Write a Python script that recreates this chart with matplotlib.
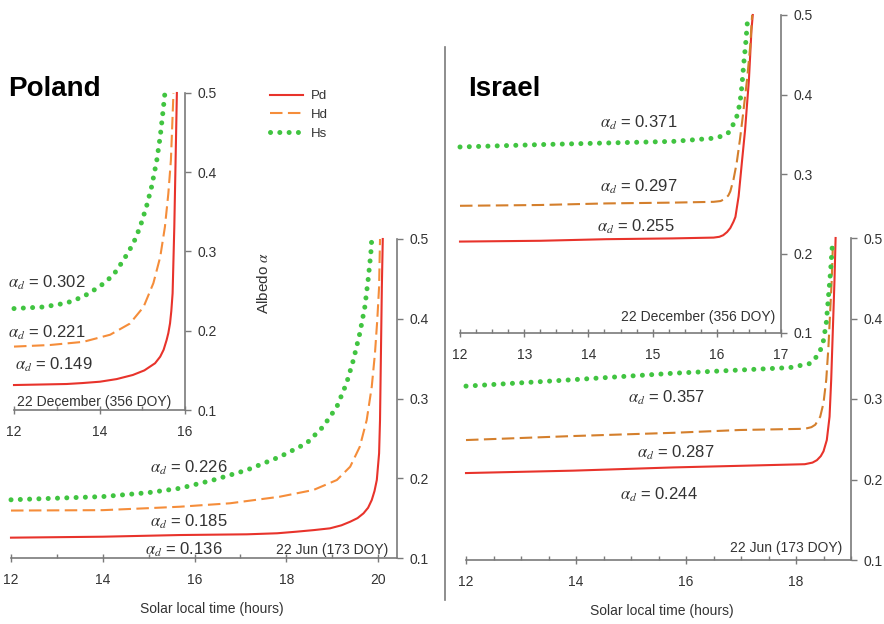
import matplotlib
matplotlib.use("Agg")
import matplotlib.pyplot as plt
from matplotlib.lines import Line2D
from matplotlib.ticker import MultipleLocator, FormatStrFormatter

plt.rcParams["font.family"] = ["Liberation Sans", "DejaVu Sans"]
plt.rcParams["mathtext.fontset"] = "stix"

# series names
series = ["Pd", "Hd", "Hs"]

# Poland, 22 December
pl_dec_t_pd = [12.0, 13.23, 13.6, 14.01, 14.4, 14.78, 15.05, 15.30, 15.42, 15.50, 15.57, 15.61, 15.65, 15.68,
               15.71, 15.75, 15.78, 15.81]
pl_dec_a_pd = [0.1315, 0.1328, 0.134, 0.1357, 0.139, 0.1442, 0.150, 0.159, 0.1673, 0.176, 0.1883, 0.197,
               0.2094, 0.225, 0.2473, 0.3313, 0.4155, 0.5]
pl_dec_t_hd = [12.0, 12.84, 13.62, 14.25, 14.71, 15.03, 15.26, 15.42, 15.53, 15.61, 15.67, 15.70, 15.73]
pl_dec_a_hd = [0.180, 0.182, 0.186, 0.195, 0.209, 0.230, 0.260, 0.293, 0.331, 0.373, 0.415, 0.457, 0.5]
pl_dec_t_hs = [12.0, 12.69, 13.23, 13.62, 14.01, 14.32, 14.56, 14.79, 14.95, 15.10, 15.22, 15.34, 15.42,
               15.48, 15.53]
pl_dec_a_hs = [0.228, 0.230, 0.235, 0.243, 0.256, 0.270, 0.289, 0.310, 0.331, 0.357, 0.382, 0.415, 0.445,
               0.474, 0.5]

# Poland, 22 June
pl_jun_t_pd = [12.0, 14.0, 15.68, 17.14, 17.8, 18.22, 18.6, 18.95, 19.2, 19.39, 19.55, 19.68, 19.78, 19.86,
               19.92, 19.97, 20.02, 20.04, 20.06, 20.08, 20.10]
pl_jun_a_pd = [0.1255, 0.1267, 0.1288, 0.1297, 0.131, 0.133, 0.135, 0.1372, 0.141, 0.1455, 0.150, 0.156,
               0.163, 0.1727, 0.184, 0.1978, 0.2313, 0.273, 0.3567, 0.4402, 0.5]
pl_jun_t_hd = [12.0, 14.0, 15.0, 15.68, 16.77, 17.86, 18.59, 19.10, 19.39, 19.60, 19.75, 19.86, 19.93,
               19.98, 20.02, 20.04]
pl_jun_a_hd = [0.1595, 0.160, 0.1625, 0.1643, 0.1686, 0.1769, 0.1853, 0.1978, 0.2145, 0.2396, 0.273,
               0.3148, 0.3567, 0.3984, 0.4402, 0.5]
pl_jun_t_hs = [12.0, 14.0, 15.0, 15.68, 16.41, 17.14, 17.86, 18.44, 18.80, 19.10, 19.31, 19.46, 19.60,
               19.71, 19.78, 19.84, 19.86]
pl_jun_a_hs = [0.173, 0.177, 0.182, 0.1874, 0.1978, 0.2103, 0.227, 0.2438, 0.2646, 0.2897, 0.319, 0.3483,
               0.3818, 0.4151, 0.4486, 0.482, 0.5]

# Israel, 22 December
il_dec_t_pd = [12.0, 13.25, 14.28, 15.32, 15.95, 16.04, 16.10, 16.16, 16.21, 16.26, 16.29, 16.34, 16.39,
               16.44, 16.50, 16.54, 16.56]
il_dec_a_pd = [0.215, 0.216, 0.218, 0.219, 0.220, 0.221, 0.223, 0.227, 0.232, 0.240, 0.246, 0.272, 0.314,
               0.355, 0.418, 0.481, 0.5]
il_dec_t_hd = [12.0, 13.25, 14.28, 15.32, 15.95, 16.06, 16.13, 16.18, 16.21, 16.26, 16.31, 16.36, 16.41,
               16.47, 16.52, 16.55]
il_dec_a_hd = [0.260, 0.261, 0.263, 0.264, 0.265, 0.266, 0.269, 0.273, 0.278, 0.293, 0.314, 0.343, 0.376,
               0.418, 0.460, 0.5]
il_dec_t_hs = [12.0, 13.25, 14.28, 15.32, 15.95, 16.10, 16.18, 16.23, 16.31, 16.36, 16.39, 16.42, 16.45,
               16.48]
il_dec_a_hs = [0.334, 0.337, 0.339, 0.341, 0.345, 0.348, 0.352, 0.358, 0.372, 0.389, 0.410, 0.439, 0.464,
               0.495]

# Israel, 22 June
il_jun_t_pd = [12.0, 13.95, 15.77, 16.98, 18.16, 18.30, 18.38, 18.45, 18.50, 18.56, 18.61, 18.64, 18.67,
               18.70, 18.72]
il_jun_a_pd = [0.208, 0.211, 0.215, 0.217, 0.219, 0.221, 0.224, 0.229, 0.235, 0.249, 0.278, 0.324, 0.386,
               0.448, 0.5]
il_jun_t_hd = [12.0, 13.95, 15.77, 16.98, 18.16, 18.28, 18.35, 18.44, 18.50, 18.55, 18.59, 18.62, 18.65,
               18.67]
il_jun_a_hd = [0.249, 0.254, 0.258, 0.2615, 0.263, 0.265, 0.268, 0.278, 0.295, 0.324, 0.365, 0.407, 0.448,
               0.49]
il_jun_t_hs = [12.0, 13.95, 15.77, 16.98, 17.89, 18.25, 18.41, 18.49, 18.55, 18.59, 18.63, 18.66]
il_jun_a_hs = [0.316, 0.324, 0.332, 0.336, 0.339, 0.344, 0.355, 0.369, 0.394, 0.427, 0.460, 0.491]

# daily albedo values (Pd, Hd, Hs)
pl_dec_daily = [0.149, 0.221, 0.302]
pl_jun_daily = [0.136, 0.185, 0.226]
il_dec_daily = [0.255, 0.297, 0.371]
il_jun_daily = [0.244, 0.287, 0.357]

GREY = "#7a7a7a"
TXT = "#333333"
RED = "#e8332b"
ORANGE_PL = "#f58d3a"
ORANGE_IL = "#d47f2c"
GREEN = "#41c441"


def style_axes(ax, xmax, major, minor):
    ax.set_xlim(12, xmax)
    ax.set_ylim(0.1, 0.5)
    ax.patch.set_visible(False)
    ax.spines["top"].set_visible(False)
    ax.spines["left"].set_visible(False)
    for s in ["bottom", "right"]:
        ax.spines[s].set_color(GREY)
        ax.spines[s].set_linewidth(1.2)
    ax.yaxis.tick_right()
    ax.yaxis.set_major_locator(MultipleLocator(0.1))
    ax.yaxis.set_major_formatter(FormatStrFormatter("%.1f"))
    ax.xaxis.set_major_locator(MultipleLocator(major))
    ax.xaxis.set_minor_locator(MultipleLocator(minor))
    ax.tick_params(axis="y", direction="out", length=4, width=1, color=GREY,
                   labelsize=10, labelcolor=TXT, pad=5)
    ax.tick_params(axis="x", which="major", direction="inout", length=6, width=1,
                   color=GREY, labelsize=10, labelcolor=TXT, pad=8)
    ax.tick_params(axis="x", which="minor", direction="in", length=3, width=1, color=GREY)


def draw_curves(ax, pd, hd, hs, orange):
    l1, = ax.plot(pd[0], pd[1], color=RED, lw=1.5, clip_on=False)
    l2, = ax.plot(hd[0], hd[1], color=orange, lw=1.5, linestyle=(0, (6, 2.6)), clip_on=False)
    l3, = ax.plot(hs[0], hs[1], color=GREEN, lw=3.6, linestyle=(0, (0.01, 1.85)),
                  dash_capstyle="round", clip_on=False)
    return [l1, l2, l3]


def label_daily(ax, values, positions):
    for v, (x, y) in zip(values, positions):
        ax.text(x, y, r"$\alpha_d$ = %.3f" % v, fontsize=12, color=TXT,
                ha="left", va="center")


fig = plt.figure(figsize=(8.84, 6.24), dpi=100)
W, H = 884.0, 624.0


def add_axes_px(left, right, top, bottom):
    return fig.add_axes([left / W, 1 - bottom / H, (right - left) / W, (bottom - top) / H])


# Poland
ax_pl_dec = add_axes_px(14, 185, 93, 410)
style_axes(ax_pl_dec, 16, 2, 1)
handles = draw_curves(ax_pl_dec, (pl_dec_t_pd, pl_dec_a_pd), (pl_dec_t_hd, pl_dec_a_hd),
                      (pl_dec_t_hs, pl_dec_a_hs), ORANGE_PL)
label_daily(ax_pl_dec, pl_dec_daily, [(12.02, 0.157), (11.86, 0.198), (11.86, 0.260)])
ax_pl_dec.text(12.07, 0.110, "22 December (356 DOY)", fontsize=10, color=TXT, ha="left", va="center")

ax_pl_jun = add_axes_px(11, 397, 239, 558)
style_axes(ax_pl_jun, 20.41, 2, 1)
draw_curves(ax_pl_jun, (pl_jun_t_pd, pl_jun_a_pd), (pl_jun_t_hd, pl_jun_a_hd),
            (pl_jun_t_hs, pl_jun_a_hs), ORANGE_PL)
label_daily(ax_pl_jun, pl_jun_daily, [(14.92, 0.110), (15.03, 0.145), (15.03, 0.213)])
ax_pl_jun.text(20.21, 0.110, "22 Jun (173 DOY)", fontsize=10, color=TXT, ha="right", va="center")

# Israel
ax_il_dec = add_axes_px(460, 781, 15, 333)
style_axes(ax_il_dec, 17, 1, 0.25)
draw_curves(ax_il_dec, (il_dec_t_pd, il_dec_a_pd), (il_dec_t_hd, il_dec_a_hd),
            (il_dec_t_hs, il_dec_a_hs), ORANGE_IL)
label_daily(ax_il_dec, il_dec_daily, [(14.13, 0.233), (14.18, 0.284), (14.18, 0.365)])
ax_il_dec.text(16.91, 0.120, "22 December (356 DOY)", fontsize=10, color=TXT, ha="right", va="center")

ax_il_jun = add_axes_px(466, 851, 238, 560)
style_axes(ax_il_jun, 19, 2, 0.5)
draw_curves(ax_il_jun, (il_jun_t_pd, il_jun_a_pd), (il_jun_t_hd, il_jun_a_hd),
            (il_jun_t_hs, il_jun_a_hs), ORANGE_IL)
label_daily(ax_il_jun, il_jun_daily, [(14.80, 0.181), (15.11, 0.233), (14.95, 0.301)])
ax_il_jun.text(18.85, 0.115, "22 Jun (173 DOY)", fontsize=10, color=TXT, ha="right", va="center")

# titles, shared labels, legend and the divider between countries
fig.text(8 / W, 1 - 89 / H, "Poland", fontsize=20, fontweight="bold", color="black",
         ha="left", va="center")
fig.text(468 / W, 1 - 89 / H, "Israel", fontsize=20, fontweight="bold", color="black",
         ha="left", va="center")
fig.text(263 / W, 1 - 283 / H, r"Albedo $\alpha$", fontsize=11, color=TXT, rotation=90,
         ha="center", va="center")
fig.text(212 / W, 1 - 609 / H, "Solar local time (hours)", fontsize=10, color=TXT,
         ha="center", va="center")
fig.text(662 / W, 1 - 611 / H, "Solar local time (hours)", fontsize=10, color=TXT,
         ha="center", va="center")

fig.legend(handles, series, loc="upper left", bbox_to_anchor=(270 / W, 1 - 90 / H),
           frameon=False, fontsize=9.5, handlelength=2.5, borderpad=0, borderaxespad=0,
           labelspacing=0.5, handletextpad=0.6, labelcolor=TXT)

fig.add_artist(Line2D([445 / W, 445 / W], [1 - 47 / H, 1 - 600 / H],
                      transform=fig.transFigure, color=GREY, lw=1.2))

fig.savefig("out.png", dpi=100)
